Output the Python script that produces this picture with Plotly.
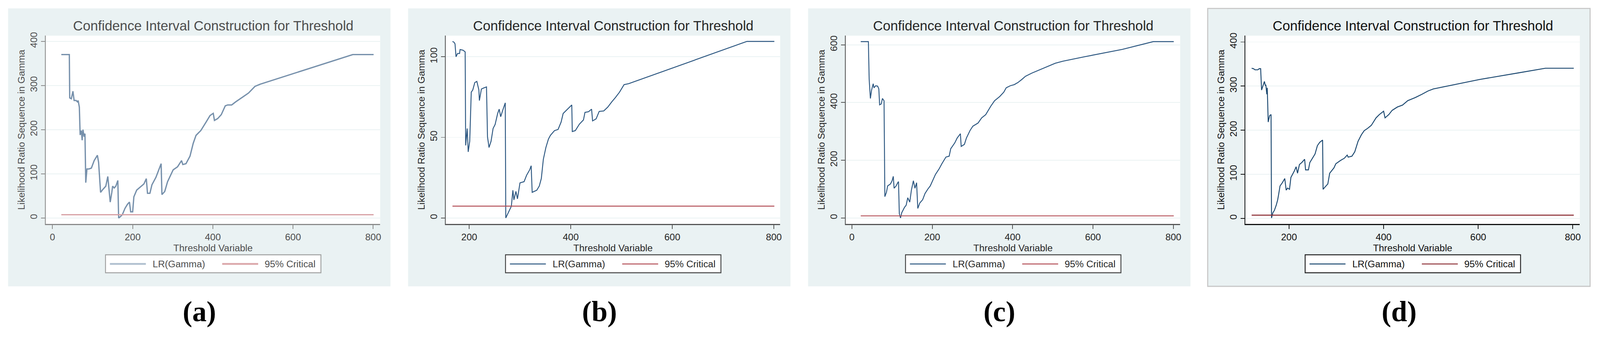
import plotly.graph_objects as go

# ---------------- data ----------------
panel_labels = ["(a)", "(b)", "(c)", "(d)"]
chart_title = "Confidence Interval Construction for Threshold"
x_title = "Threshold Variable"
y_title = "Likelihood Ratio Sequence in Gamma"
series_names = ["LR(Gamma)", "95% Critical"]

x_a = [22, 42, 43, 47, 51, 54, 59, 62, 64, 67, 69, 72, 74, 76, 79, 81, 83, 86, 91, 97,
       104, 112, 115, 120, 126, 133, 138, 141, 144, 148, 150, 154, 158, 163, 165, 168,
       174, 181, 187, 192, 195, 200, 203, 210, 219, 228, 234, 237, 243, 248, 258, 264,
       271, 273, 280, 287, 296, 301, 312, 322, 325, 333, 343, 351, 358, 370, 383, 393,
       401, 404, 412, 421, 431, 437, 447, 457, 473, 489, 505, 518, 749, 801]
y_a = [370, 370, 272, 270, 287, 266, 266, 263, 266, 251, 188, 198, 176, 200, 184, 191,
       80, 111, 111, 113, 130, 142, 126, 58, 65, 72, 94, 63, 36, 58, 72, 68, 72, 85, 0,
       2, 7, 22, 31, 36, 14, 14, 48, 63, 70, 77, 89, 56, 56, 75, 92, 106, 123, 53, 60,
       82, 99, 109, 116, 130, 121, 123, 140, 169, 187, 198, 217, 232, 237, 221, 225,
       234, 254, 256, 256, 263, 273, 283, 298, 303, 370, 370]

x_b = [167, 170, 172, 174, 177, 181, 182, 188, 192, 193, 196, 198, 201, 204, 207, 211,
       215, 219, 220, 224, 229, 234, 236, 239, 243, 247, 251, 256, 259, 262, 266, 271,
       272, 277, 283, 286, 288, 292, 295, 300, 308, 313, 319, 322, 324, 333, 338, 342,
       346, 351, 356, 360, 368, 375, 381, 385, 394, 402, 403, 409, 417, 425, 428, 435,
       441, 443, 450, 456, 465, 473, 481, 488, 496, 505, 514, 747, 801]
y_b = [109.5, 109, 108, 100, 102, 102, 104.5, 104, 103, 45, 55.5, 41, 47.6, 78, 79.4,
       84, 84.7, 79.4, 72.8, 80, 80.7, 81.3, 50.3, 43.7, 47.6, 55.5, 58, 64.8, 67.5,
       62.8, 66.8, 71.4, 0, 3.3, 7.3, 17.2, 11.2, 16.5, 11.9, 21.8, 22.5, 26.5, 29.8,
       32.4, 15.9, 17.2, 19.8, 24.5, 36.4, 43.7, 48.9, 51.3, 54.2, 54.9, 59.5, 64.8,
       67.5, 70.1, 53.6, 54.2, 58.2, 60.8, 65.5, 65.9, 67.5, 60.2, 61.5, 66.1, 66.4,
       68.8, 72.1, 74.7, 78, 82.7, 83.3, 109.5, 109.5]

x_c = [22, 41, 43, 46, 49, 53, 55, 59, 64, 67, 69, 73, 76, 80, 82, 86, 89, 96, 100, 103,
       105, 110, 114, 116, 118, 121, 124, 131, 135, 139, 144, 148, 153, 157, 161, 164,
       169, 176, 182, 189, 195, 201, 208, 217, 224, 234, 242, 246, 256, 262, 270, 272,
       280, 285, 294, 301, 314, 323, 333, 346, 355, 368, 378, 384, 394, 404, 413, 423,
       432, 448, 468, 487, 506, 525, 577, 673, 750, 801]
y_c = [611, 611, 480, 414, 443, 465, 451, 458, 457, 447, 392, 395, 414, 406, 74, 89,
       111, 118, 129, 144, 103, 111, 122, 126, 15, 0, 18, 37, 44, 70, 55, 96, 129, 103,
       122, 33, 52, 63, 85, 100, 111, 129, 151, 170, 188, 211, 214, 240, 260, 277, 292,
       248, 255, 277, 303, 318, 329, 347, 358, 388, 406, 421, 436, 451, 458, 462, 469,
       480, 491, 502, 514, 525, 536, 543, 558, 584, 611, 611]

x_d = [121, 125, 128, 134, 137, 140, 142, 145, 147, 148, 150, 151, 153, 154, 156, 159,
       162, 163, 166, 169, 173, 176, 178, 181, 186, 191, 194, 197, 201, 204, 211, 215,
       218, 222, 227, 233, 235, 241, 244, 249, 255, 260, 265, 271, 272, 276, 282, 286,
       292, 295, 299, 309, 317, 323, 325, 333, 339, 346, 353, 359, 366, 374, 384, 391,
       400, 403, 411, 418, 429, 440, 451, 467, 481, 494, 505, 516, 549, 603, 685, 742, 802]
y_d = [340.5, 339.5, 337, 337, 339.5, 339.5, 291, 301, 308, 310.5, 301, 303, 281.5, 296,
       218.6, 233, 235.5, 1, 13, 18, 30, 42, 54, 73.5, 81, 90.4, 64, 68.7, 66, 93, 107,
       117, 102.5, 122, 126.7, 134, 110, 110, 126.7, 136, 146, 165, 172.7, 177.5, 66, 71,
       78, 102.5, 110, 114.6, 124, 131.5, 136.4, 143.6, 138.8, 141, 151, 175, 189.6, 199,
       204, 211, 228, 235.5, 243, 228, 235.5, 245, 252.5, 257, 267, 274, 281.5, 289,
       293.6, 296, 303, 315, 330, 340.5, 340.5]

critical_values = [7.35, 7.35, 7.35, 7.35]

x_ticks = [[0, 200, 400, 600, 800], [200, 400, 600, 800],
           [0, 200, 400, 600, 800], [200, 400, 600, 800]]
y_ticks = [[0, 100, 200, 300, 400], [0, 50, 100],
           [0, 200, 400, 600], [0, 100, 200, 300, 400]]

# ---------------- layout / style ----------------
W, H = 4360, 911
FONT = "Arial, Liberation Sans, sans-serif"
SERIF = "Liberation Serif, Times New Roman, serif"
PANEL_BG = "#eaf2f3"

panel_left = [22, 1112, 2202, 3291]
panel_w = 1042
panel_top, panel_bottom = 23, 780
plot_off_l, plot_off_r = 103, 1014
plot_top, plot_bottom = 97, 610

x_ranges = [[-16.5, 817.4], [154, 812.5], [-15, 817], [108, 814.8]]
y_ranges = [[-13.5, 413], [-3.7, 113.1], [-20.7, 631.8], [-12.6, 414.5]]

styles = [
    dict(blue="#7690ab", red="#d7a0a4", bw=3.5, rw=3, lblue="#b3c2d1", lred="#dcaaad",
         lw=5, text="#4d4d4d", axis="#8a8a8a", lborder="#a0a0a0", border=None),
    dict(blue="#2b5680", red="#b34f57", bw=2.5, rw=2.5, lblue="#2b5680", lred="#b34f57",
         lw=2.5, text="#262626", axis="#555555", lborder="#444444", border=None),
    dict(blue="#2b5680", red="#b34f57", bw=2.5, rw=2.5, lblue="#2b5680", lred="#b34f57",
         lw=2.5, text="#262626", axis="#555555", lborder="#444444", border=None),
    dict(blue="#1a476f", red="#90353b", bw=2.5, rw=3, lblue="#1a476f", lred="#90353b",
         lw=2.5, text="#111111", axis="#111111", lborder="#222222", border="#c8c8c8"),
]

xs = [x_a, x_b, x_c, x_d]
ys = [y_a, y_b, y_c, y_d]


def px(v):
    return v / W


def py(v):
    return 1 - v / H


fig = go.Figure()
shapes = []
annotations = []
layout_axes = {}

for i in range(4):
    st = styles[i]
    n = "" if i == 0 else str(i + 1)
    xa, ya = "x" + n, "y" + n
    L = panel_left[i]
    pl, pr = L + plot_off_l, L + plot_off_r
    pc = (pl + pr) / 2

    # panel background
    shapes.append(dict(type="rect", xref="paper", yref="paper", layer="below",
                       x0=px(L), x1=px(L + panel_w), y0=py(panel_bottom), y1=py(panel_top),
                       fillcolor=PANEL_BG,
                       line=dict(color=st["border"] or PANEL_BG, width=3 if st["border"] else 0)))
    # white plot region
    shapes.append(dict(type="rect", xref=xa + " domain", yref=ya + " domain", layer="below",
                       x0=0, x1=1, y0=0, y1=1, fillcolor="white", line=dict(width=0)))

    fig.add_trace(go.Scatter(x=xs[i], y=ys[i], mode="lines", name=series_names[0],
                             xaxis=xa, yaxis=ya, showlegend=False,
                             line=dict(color=st["blue"], width=st["bw"])))
    cx = [min(xs[i]), max(xs[i])]
    fig.add_trace(go.Scatter(x=cx, y=[critical_values[i]] * 2, mode="lines",
                             name=series_names[1], xaxis=xa, yaxis=ya, showlegend=False,
                             line=dict(color=st["red"], width=st["rw"])))

    tfont = dict(family=FONT, size=26, color=st["text"])
    layout_axes["xaxis" + n] = dict(
        domain=[px(pl), px(pr)], anchor=ya, range=x_ranges[i], tickvals=x_ticks[i],
        ticks="outside", ticklen=11, tickwidth=2, tickcolor=st["axis"],
        showline=True, linecolor=st["axis"], linewidth=2.5, showgrid=False,
        zeroline=False, tickfont=tfont, fixedrange=True,
        title=dict(text=x_title, font=tfont, standoff=4))
    layout_axes["yaxis" + n] = dict(
        domain=[py(plot_bottom), py(plot_top)], anchor=xa, range=y_ranges[i],
        tickvals=y_ticks[i], tickangle=-90,
        ticks="outside", ticklen=11, tickwidth=2, tickcolor=st["axis"],
        showline=True, linecolor=st["axis"], linewidth=2.5, showgrid=True,
        gridcolor=PANEL_BG, gridwidth=2, zeroline=False, tickfont=tfont, fixedrange=True,
        title=dict(text=y_title, font=tfont, standoff=2))

    # panel title
    annotations.append(dict(text=chart_title, xref="paper", yref="paper", x=px(pc), y=py(70),
                            xanchor="center", yanchor="middle", showarrow=False,
                            font=dict(family=FONT, size=37, color=st["text"])))
    # panel label
    annotations.append(dict(text="<b>%s</b>" % panel_labels[i], xref="paper", yref="paper",
                            x=px(L + panel_w / 2), y=py(848), xanchor="center",
                            yanchor="middle", showarrow=False,
                            font=dict(family=SERIF, size=78, color="black")))

    # legend box (Stata style)
    lx0 = pc - 293
    shapes.append(dict(type="rect", xref="paper", yref="paper", x0=px(lx0), x1=px(lx0 + 587),
                       y0=py(743), y1=py(694), fillcolor="white",
                       line=dict(color=st["lborder"], width=2.5)))
    shapes.append(dict(type="line", xref="paper", yref="paper", x0=px(lx0 + 12),
                       x1=px(lx0 + 110), y0=py(719), y1=py(719),
                       line=dict(color=st["lblue"], width=st["lw"])))
    shapes.append(dict(type="line", xref="paper", yref="paper", x0=px(lx0 + 318),
                       x1=px(lx0 + 416), y0=py(719), y1=py(719),
                       line=dict(color=st["lred"], width=st["lw"])))
    annotations.append(dict(text=series_names[0], xref="paper", yref="paper",
                            x=px(lx0 + 126), y=py(719), xanchor="left", yanchor="middle",
                            showarrow=False, font=tfont))
    annotations.append(dict(text=series_names[1], xref="paper", yref="paper",
                            x=px(lx0 + 431), y=py(719), xanchor="left", yanchor="middle",
                            showarrow=False, font=tfont))

fig.update_layout(
    width=W, height=H, margin=dict(l=0, r=0, t=0, b=0, autoexpand=False),
    paper_bgcolor="white", plot_bgcolor="white", showlegend=False,
    shapes=shapes, annotations=annotations, **layout_axes)

# fit the fixed-size figure to whatever viewport the browser really has
fit_js = """
var gd = document.getElementById('{plot_id}');
document.documentElement.style.margin = '0';
document.body.style.margin = '0';
document.body.style.overflow = 'hidden';
var s = Math.min(window.innerWidth / %d, window.innerHeight / %d);
gd.style.transformOrigin = '0 0';
gd.style.transform = 'scale(' + s + ')';
""" % (W, H)

fig.write_html("out.html", config={"displayModeBar": False}, post_script=fit_js)
